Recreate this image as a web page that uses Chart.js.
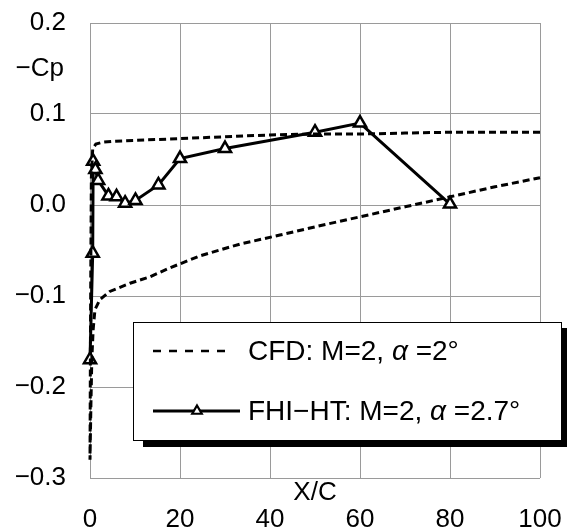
<!DOCTYPE html>
<html><head><meta charset="utf-8">
<script src="https://cdn.jsdelivr.net/npm/chart.js@4/dist/chart.umd.min.js"></script>
<style>html,body{margin:0;padding:0;background:#fff}#wrap{width:569px;height:530px;position:relative}</style>
</head><body><div id="wrap"><canvas id="c"></canvas></div>
<script>
// ---- data ----
const cfdX = [100, 90, 80, 70, 60, 50, 40, 30, 20, 10, 5, 2.9, 1.3, 0.6, 0.3, 0.2, 0.1, 0,
              0.2, 0.4, 0.7, 1.1, 2.2, 4.4, 8.9, 13.3, 17.8, 24.4, 33.3, 42.2, 50, 60, 70, 80, 90, 100];
const cfdY = [0.080, 0.080, 0.080, 0.079, 0.078, 0.078, 0.077, 0.075, 0.073, 0.071, 0.070, 0.069, 0.067, 0.062, 0.030, -0.050, -0.150, -0.280,
              -0.220, -0.170, -0.137, -0.115, -0.104, -0.095, -0.086, -0.079, -0.069, -0.056, -0.043, -0.033, -0.024, -0.013, -0.002, 0.009, 0.020, 0.030];
const fhiX = [0, 0.6, 0.7, 1.2, 1.8, 4.1, 5.9, 7.8, 10.1, 15.2, 20, 30, 50, 60, 80];
const fhiY = [-0.170, -0.053, 0.048, 0.039, 0.027, 0.010, 0.009, 0.002, 0.005, 0.022, 0.051, 0.062, 0.080, 0.090, 0.001];
const xTicks = [0, 20, 40, 60, 80, 100];
const yTicks = [-0.3, -0.2, -0.1, 0.0, 0.1, 0.2];
const yTitle = '−Cp';
const xTitle = 'X/C';
const legendParts = [
  ['CFD: M=2, ', 'α', ' =2°'],
  ['FHI−HT: M=2, ', 'α', ' =2.7°']
];

const FONT = '"Liberation Sans", Arial, Helvetica, sans-serif';
const toPts = (xs, ys) => xs.map((x, i) => ({x: x, y: ys[i]}));

const extraText = {
  id: 'extraText',
  afterDraw(chart) {
    const ctx = chart.ctx, ca = chart.chartArea;
    const xs = chart.scales.x, ys = chart.scales.y;
    ctx.save();
    ctx.fillStyle = '#000';
    ctx.font = '26px ' + FONT;
    ctx.textBaseline = 'middle';
    ctx.textAlign = 'right';
    ctx.fillText(yTitle, ca.left - 26, ys.getPixelForValue(0.15));
    ctx.textAlign = 'center';
    ctx.fillText(xTitle, xs.getPixelForValue(50), ca.bottom + 15);

    // legend box
    const bx = 133, by = 322, bw = 428, bh = 118, sh = 6;
    ctx.fillStyle = '#000';
    ctx.fillRect(bx + 10, by + bh, bw - 10 + sh, sh + 1);
    ctx.fillRect(bx + bw, by + 6, sh, bh);
    ctx.fillStyle = '#fff';
    ctx.fillRect(bx, by, bw, bh);
    ctx.strokeStyle = '#000';
    ctx.lineWidth = 1;
    ctx.strokeRect(bx + 0.5, by + 0.5, bw, bh);

    const rows = [351, 411];
    // sample CFD
    ctx.lineWidth = 2.5;
    ctx.setLineDash([8, 8]);
    ctx.beginPath(); ctx.moveTo(153, rows[0]); ctx.lineTo(232, rows[0]); ctx.stroke();
    ctx.setLineDash([]);
    // sample FHI
    ctx.lineWidth = 3;
    ctx.beginPath(); ctx.moveTo(153, rows[1]); ctx.lineTo(240, rows[1]); ctx.stroke();
    const r = 5.5, cx = 197, cy = rows[1];
    ctx.beginPath();
    for (let k = 0; k < 3; k++) {
      const a = k * 2 * Math.PI / 3;
      const px = cx + Math.sin(a) * r, py = cy - Math.cos(a) * r;
      if (k === 0) ctx.moveTo(px, py); else ctx.lineTo(px, py);
    }
    ctx.closePath();
    ctx.fillStyle = '#fff'; ctx.fill();
    ctx.lineWidth = 2.2; ctx.stroke();

    // legend text
    ctx.fillStyle = '#000';
    ctx.textAlign = 'left';
    ctx.textBaseline = 'middle';
    legendParts.forEach((parts, i) => {
      let x = 248;
      parts.forEach((p, j) => {
        ctx.font = (j === 1 ? 'italic ' : '') + '28px ' + FONT;
        ctx.fillText(p, x, rows[i] + 1);
        x += ctx.measureText(p).width;
      });
    });
    ctx.restore();
  }
};

function noPad(s) { s.paddingTop = 0; s.paddingBottom = 0; s.paddingLeft = 0; s.paddingRight = 0; }

new Chart(document.getElementById('c'), {
  type: 'scatter',
  data: {
    datasets: [
      {
        label: 'CFD: M=2, α=2°',
        data: toPts(cfdX, cfdY),
        showLine: true,
        borderColor: '#000',
        borderWidth: 3,
        borderDash: [7, 4],
        pointRadius: 0,
        tension: 0,
        clip: 6
      },
      {
        label: 'FHI−HT: M=2, α=2.7°',
        data: toPts(fhiX, fhiY),
        showLine: true,
        borderColor: '#000',
        borderWidth: 3,
        pointStyle: 'triangle',
        pointRadius: 7,
        pointBorderWidth: 2.5,
        pointBackgroundColor: '#fff',
        pointBorderColor: '#000',
        tension: 0,
        clip: 10
      }
    ]
  },
  options: {
    responsive: true,
    maintainAspectRatio: false,
    animation: false,
    devicePixelRatio: 1,
    layout: { padding: { top: 23, right: 29, left: 0, bottom: 0 } },
    plugins: { legend: { display: false }, tooltip: { enabled: false } },
    scales: {
      x: {
        type: 'linear', min: 0, max: 100,
        afterFit(s) { s.height = 52; noPad(s); },
        afterBuildTicks(s) { s.ticks = xTicks.map(v => ({value: v})); },
        ticks: { color: '#000', padding: 26, font: { family: FONT, size: 26 }, maxRotation: 0,
                 callback: v => String(v) },
        grid: { color: '#9a9a9a', lineWidth: 1, drawTicks: false },
        border: { display: false }
      },
      y: {
        type: 'linear', min: -0.3, max: 0.2,
        afterFit(s) { s.width = 90; noPad(s); },
        afterBuildTicks(s) { s.ticks = yTicks.map(v => ({value: v})); },
        ticks: { color: '#000', padding: 24, font: { family: FONT, size: 26 },
                 callback: v => (v < -1e-9 ? '−' : '') + Math.abs(v).toFixed(1) },
        grid: { color: '#9a9a9a', lineWidth: 1, drawTicks: false },
        border: { display: false }
      }
    }
  },
  plugins: [extraText]
});
</script>
</body></html>
